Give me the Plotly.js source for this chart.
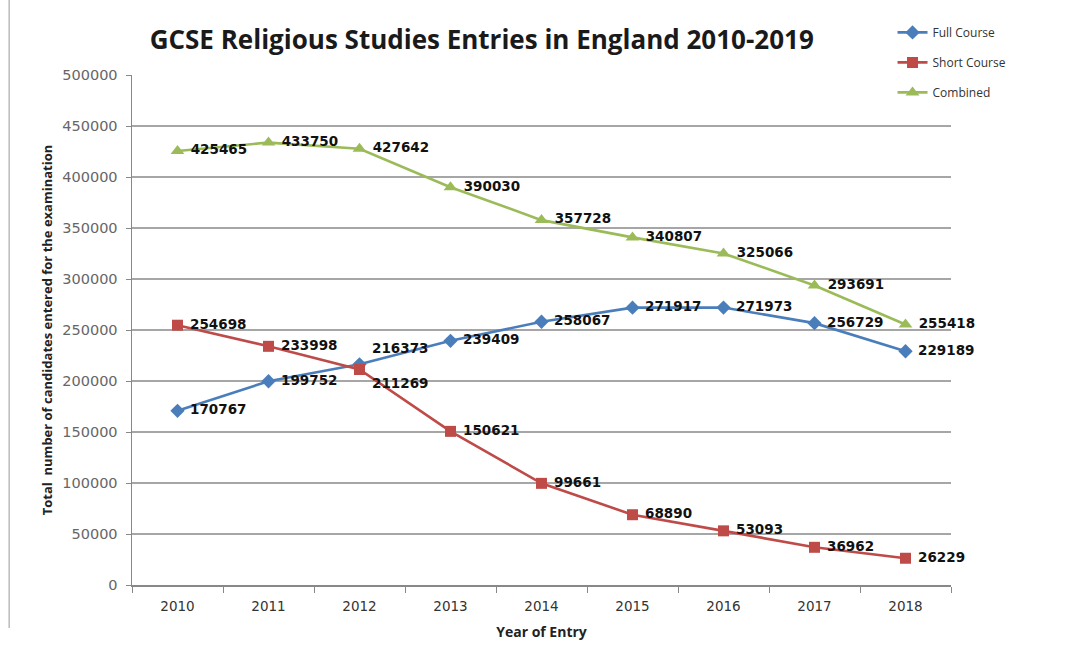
<!DOCTYPE html>
<html>
<head>
<meta charset="utf-8">
<script src="https://cdn.plot.ly/plotly-3.0.1.min.js"></script>
<style>html,body{margin:0;padding:0;background:#fff;}#chart{width:1065px;height:655px;}</style>
</head>
<body>
<div id="chart"></div>
<script>
var years = ["2010","2011","2012","2013","2014","2015","2016","2017","2018"];
var fullCourse = [170767,199752,216373,239409,258067,271917,271973,256729,229189];
var shortCourse = [254698,233998,211269,150621,99661,68890,53093,36962,26229];
var combined = [425465,433750,427642,390030,357728,340807,325066,293691,255418];
var yTicks = [0,50000,100000,150000,200000,250000,300000,350000,400000,450000,500000];

var fullPos = ["middle right","middle right","top right","middle right","middle right","middle right","middle right","middle right","middle right"];
var shortPos = ["middle right","middle right","bottom right","middle right","middle right","middle right","middle right","middle right","middle right"];
var combPos = ["middle right","middle right","middle right","middle right","middle right","middle right","middle right","middle right","middle right"];

var labelFont = {family:"DejaVu Sans", size:13.5, color:"#111", weight:"bold"};

function mk(name, y, color, symbol, msize, pos, group){
  return {
    type:"scatter", mode:"lines+markers+text", name:name, x:years, y:y,
    text:y.map(String), texttemplate:" %{text}", textposition:pos, textfont:labelFont,
    line:{color:color, width:2.6},
    marker:{color:color, symbol:symbol, size:msize},
    legendgroup:group, cliponaxis:false
  };
}

var data = [
  mk("Full Course", fullCourse, "#4A7EBB", "diamond", 11, fullPos, "a"),
  mk("Short Course", shortCourse, "#BE4B48", "square", 11, shortPos, "b"),
  mk("Combined", combined, "#9BBB59", "triangle-up", 12, combPos, "c")
];

var layout = {
  width:1065, height:655,
  margin:{l:132, r:113.5, t:75, b:70},
  paper_bgcolor:"#fff", plot_bgcolor:"#fff",
  showlegend:true,
  title:{text:"GCSE Religious Studies Entries in England 2010-2019",
    font:{family:"Open Sans", size:26, color:"#1a1a1a", weight:"bold"},
    x:0.427, xref:"paper", xanchor:"center", y:0.939, yref:"container", yanchor:"middle"},
  legend:{x:0.9286, y:1.112, xanchor:"left", yanchor:"top", traceorder:"grouped", tracegroupgap:11,
    font:{family:"Open Sans", size:12, color:"#333"}, bgcolor:"rgba(0,0,0,0)", itemwidth:30},
  xaxis:{type:"category", range:[-0.5,8.5], tickson:"boundaries", ticks:"outside", ticklen:6, tickcolor:"#888",
    showline:true, linecolor:"#888", linewidth:1.5, showgrid:false, zeroline:false,
    tickfont:{family:"DejaVu Sans", size:13.5, color:"#333"}, ticklabelstandoff:8,
    title:{text:"Year of Entry", font:{family:"Open Sans", size:14, color:"#222", weight:"bold"}, standoff:14},
    fixedrange:true},
  yaxis:{range:[0,500000], tickvals:yTicks, ticktext:yTicks.map(String), ticks:"outside", ticklen:5, tickcolor:"#888",
    showline:true, linecolor:"#888", linewidth:1.5, showgrid:true, gridcolor:"#a6a6a6", gridwidth:1.2, zeroline:false,
    tickfont:{family:"DejaVu Sans", size:14.5, color:"#666"}, ticklabelstandoff:5,
    title:{text:"Total  number of candidates entered for the examination", font:{family:"Open Sans", size:13, color:"#222", weight:"bold"}, standoff:6},
    fixedrange:true},
  shapes:[{type:"line", xref:"paper", yref:"paper", x0:-0.150, x1:-0.150, y0:(585-0)/510, y1:(585-628)/510, line:{color:"#aaa", width:1.2}}]
};

Plotly.newPlot("chart", data, layout, {displayModeBar:false, staticPlot:true});
</script>
</body>
</html>
